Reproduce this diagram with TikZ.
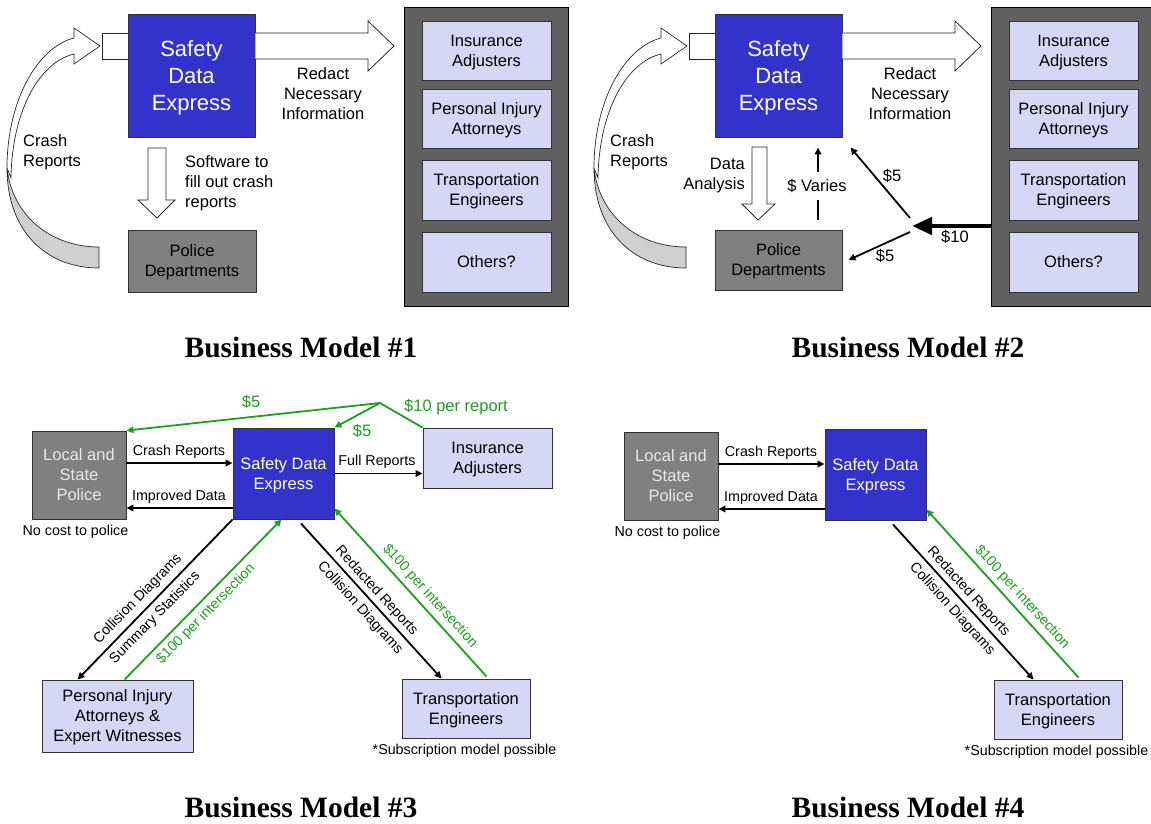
\documentclass[tikz,border=0pt]{standalone}
\usepackage{fontspec}
\setmainfont{Liberation Sans}
\newfontfamily\titlefont{Liberation Serif}
\usetikzlibrary{arrows.meta,calc}
\definecolor{sdeblue}{RGB}{51,51,204}
\definecolor{polgrey}{RGB}{128,128,128}
\definecolor{contgrey}{RGB}{96,96,96}
\definecolor{lav}{RGB}{214,214,245}
\definecolor{mgreen}{RGB}{30,160,30}
\definecolor{curvegrey}{RGB}{208,208,208}
\definecolor{poltext}{RGB}{232,232,232}
\tikzset{
 box/.style={draw=black!80, line width=0.9pt, inner sep=0pt, align=center, text depth=0pt},
 sdebox/.style={box, fill=sdeblue, text=white},
 polbox/.style={box, fill=polgrey},
 lavbox/.style={box, fill=lav},
 contbox/.style={draw=black, line width=0.9pt, fill=contgrey, inner sep=0pt},
 bigtxt/.style={font=\fontsize{22}{27}\selectfont},
 midtxt/.style={font=\fontsize{16.5}{20}\selectfont},
 smalltxt/.style={font=\fontsize{14.3}{17}\selectfont},
 lbl/.style={inner sep=0pt, align=center},
 blockarrow/.style={draw=black!85, line width=0.8pt, fill=white, line join=miter},
 flow/.style={line width=1.8pt, -{Triangle[length=7pt,width=6.5pt]}},
 money/.style={flow, draw=mgreen},
 titletxt/.style={font=\titlefont\bfseries\fontsize{29.5}{32}\selectfont, anchor=base, inner sep=0pt},
 curveback/.style={fill=curvegrey, draw=black!85, line width=0.7pt},
 curvefront/.style={fill=white, draw=black!85, line width=0.7pt},
}
\begin{document}
\begin{tikzpicture}[x=1pt,y=-1pt]
\useasboundingbox[fill=white] (0,0) rectangle (1151,824);

%%%%%%%%%%%%%%%% Business Model #1 %%%%%%%%%%%%%%%%
\node[contbox, minimum width=164, minimum height=299] (cont1) at (486,156.5) {};
\node[lavbox, midtxt, minimum width=129, minimum height=59] (ia1) at (486.5,50.5) {Insurance\\Adjusters};
\node[lavbox, midtxt, minimum width=129, minimum height=59] (pa1) at (486.5,118.5) {Personal Injury\\Attorneys};
\node[lavbox, midtxt, minimum width=129, minimum height=60] (te1) at (486.5,190) {Transportation\\Engineers};
\node[lavbox, midtxt, minimum width=129, minimum height=60] (ot1) at (486.5,262) {Others?};

% curved arrow
\filldraw[curveback] (99,268) .. controls (45,268) and (7,230) .. (7,168) .. controls (12,215) and (50,247) .. (99,247) -- cycle;
\filldraw[curvefront] (7,168) .. controls (7,100) and (38,47) .. (74,38) -- (74,28) -- (100,46) -- (74,64) -- (74,54) .. controls (40,62) and (12,110) .. (11,178) -- cycle;
\draw[blockarrow] (102,33) rectangle (128,59);

\node[sdebox, bigtxt, minimum width=127, minimum height=123] (sde1) at (191.5,75.5) {Safety\\Data\\Express};
\draw[blockarrow] (sde1.east |- 0,33) -- (368,33) -- (368,21) -- (394,46) -- (368,71) -- (368,59) -- (sde1.east |- 0,59);
\node[polbox, midtxt, minimum width=128, minimum height=62] (pol1) at (192,261) {Police\\Departments};
\draw[blockarrow] (148,148) -- (166,148) -- (166,200) -- (175,200) -- (157,218) -- (138,200) -- (148,200) -- cycle;

\node[lbl, midtxt] (redact1) at (323,94) {Redact\\Necessary\\Information};
\node[lbl, midtxt, align=left, anchor=west] (crash1) at (23,152) {Crash\\Reports};
\node[lbl, midtxt, align=left, anchor=west] (soft1) at (185,183.5) {Software to\\fill out crash\\reports};

\node[titletxt] (t1) at (301,357) {Business Model \#1};

%%%%%%%%%%%%%%%% Business Model #2 %%%%%%%%%%%%%%%%
\begin{scope}[shift={(587,0)}]
\node[contbox, minimum width=164, minimum height=299] (cont2) at (486,156.5) {};
\node[lavbox, midtxt, minimum width=129, minimum height=59] (ia2) at (486.5,50.5) {Insurance\\Adjusters};
\node[lavbox, midtxt, minimum width=129, minimum height=59] (pa2) at (486.5,118.5) {Personal Injury\\Attorneys};
\node[lavbox, midtxt, minimum width=129, minimum height=60] (te2) at (486.5,190) {Transportation\\Engineers};
\node[lavbox, midtxt, minimum width=129, minimum height=60] (ot2) at (486.5,262) {Others?};

\filldraw[curveback] (99,268) .. controls (45,268) and (7,230) .. (7,168) .. controls (12,215) and (50,247) .. (99,247) -- cycle;
\filldraw[curvefront] (7,168) .. controls (7,100) and (38,47) .. (74,38) -- (74,28) -- (100,46) -- (74,64) -- (74,54) .. controls (40,62) and (12,110) .. (11,178) -- cycle;
\draw[blockarrow] (102,33) rectangle (128,59);

\node[sdebox, bigtxt, minimum width=127, minimum height=123] (sde2) at (191.5,75.5) {Safety\\Data\\Express};
\draw[blockarrow] (sde2.east |- 0,33) -- (368,33) -- (368,21) -- (394,46) -- (368,71) -- (368,59) -- (sde2.east |- 0,59);
\node[polbox, midtxt, minimum width=127, minimum height=60] (pol2) at (191.5,260) {Police\\Departments};
\draw[blockarrow] (165,147) -- (180,147) -- (180,204) -- (188,204) -- (171,220) -- (155,204) -- (165,204) -- cycle;

\node[lbl, midtxt] (redact2) at (323,94) {Redact\\Necessary\\Information};
\node[lbl, midtxt, align=left, anchor=west] (crash2) at (23,152) {Crash\\Reports};
\node[lbl, midtxt, align=right, anchor=east] (da2) at (158,176) {Data\\Analysis};

\draw[flow] ($(pol2.north)+(39.5,-10)$) -- ($(sde2.south)+(39.5,10)$);
\node[lbl, midtxt, fill=white, minimum width=75, minimum height=28] (var2) at (230,186) {\$ Varies};

\coordinate (j2) at (325,226);
\draw[line width=4.5pt, -{Triangle[length=20pt,width=17pt]}] (cont2.west |- j2) -- (j2);
\draw[flow] ($(j2)+(-2,-8)$) -- ($(sde2.south east)+(8,10)$);
\draw[flow] ($(j2)+(-2,6)$) -- ($(pol2.east)+(6,0)$);
\node[lbl, midtxt] (p5a) at (305,176) {\$5};
\node[lbl, midtxt] (p10) at (368,237) {\$10};
\node[lbl, midtxt] (p5b) at (298,256) {\$5};

\node[titletxt] (t2) at (321,357) {Business Model \#2};
\end{scope}

%%%%%%%%%%%%%%%% Business Model #3 %%%%%%%%%%%%%%%%
\node[polbox, midtxt, text=poltext, minimum width=94, minimum height=88] (police3) at (79,475) {Local and\\State\\Police};
\node[sdebox, midtxt, minimum width=101, minimum height=91] (sde3) at (283.5,473.5) {Safety Data\\Express};
\node[lavbox, midtxt, minimum width=129, minimum height=60] (ins3) at (487.5,458) {Insurance\\Adjusters};
\node[lavbox, midtxt, minimum width=151, minimum height=72] (pi3) at (117.5,716) {Personal Injury\\Attorneys \&\\Expert Witnesses};
\node[lavbox, midtxt, minimum width=128, minimum height=59] (te3) at (466,708.5) {Transportation\\Engineers};

\coordinate (c3a) at ($(police3.east)+(0,-12)$);
\draw[flow] (c3a) -- (c3a -| sde3.west);
\coordinate (c3b) at ($(sde3.west)+(0,34.5)$);
\draw[flow] (c3b) -- (c3b -| police3.east);
\draw[flow] (sde3.east) -- (sde3.east -| ins3.west);
\node[lbl, smalltxt] (l3a) at (179,452) {Crash Reports};
\node[lbl, smalltxt] (l3b) at (179,497) {Improved Data};
\node[lbl, smalltxt] (l3c) at (377,462) {Full Reports};
\node[lbl, smalltxt] (l3d) at (75.5,532) {No cost to police};

\coordinate (j3) at (380,403);
\draw[mgreen, line width=1.8pt] (ins3.north west) -- (j3);
\draw[money] (j3) -- (police3.north east);
\draw[money] (j3) -- (sde3.north east);
\node[lbl, midtxt, text=mgreen] (g3a) at (251,402) {\$5};
\node[lbl, midtxt, text=mgreen] (g3b) at (456,407) {\$10 per report};
\node[lbl, midtxt, text=mgreen] (g3c) at (362,431) {\$5};

\draw[flow] (sde3.south west) -- ($(pi3.north west)+(36,0)$);
\draw[money] ($(pi3.north west)+(83,0)$) -- ($(sde3.south)+(-2,0)$);
\draw[flow] ($(sde3.south)+(17.5,4)$) -- ($(te3.north west)+(40,0)$);
\draw[money] ($(te3.north west)+(85,-2)$) -- ($(sde3.south east)+(0,-11)$);

\node[lbl, smalltxt, rotate=45.7] (r3a) at (138,599) {Collision Diagrams};
\node[lbl, smalltxt, rotate=45.7] (r3b) at (155,618) {Summary Statistics};
\node[lbl, smalltxt, rotate=45.5, text=mgreen] (r3c) at (206,614) {\$100 per intersection};
\node[lbl, smalltxt, rotate=-47.7] (r3d) at (376.5,591) {Redacted Reports};
\node[lbl, smalltxt, rotate=-47.7] (r3e) at (360,608) {Collision Diagrams};
\node[lbl, smalltxt, rotate=-47.9, text=mgreen] (r3f) at (430,596) {\$100 per intersection};
\node[lbl, smalltxt] (sub3) at (464.5,751) {*Subscription model possible};

\node[titletxt] (t3) at (301,817) {Business Model \#3};

%%%%%%%%%%%%%%%% Business Model #4 %%%%%%%%%%%%%%%%
\begin{scope}[shift={(592,1)}]
\node[polbox, midtxt, text=poltext, minimum width=94, minimum height=88] (police4) at (79,475) {Local and\\State\\Police};
\node[sdebox, midtxt, minimum width=101, minimum height=91] (sde4) at (283.5,473.5) {Safety Data\\Express};
\node[lavbox, midtxt, minimum width=128, minimum height=59] (te4) at (466,708.5) {Transportation\\Engineers};

\coordinate (c4a) at ($(police4.east)+(0,-12)$);
\draw[flow] (c4a) -- (c4a -| sde4.west);
\coordinate (c4b) at ($(sde4.west)+(0,34.5)$);
\draw[flow] (c4b) -- (c4b -| police4.east);
\node[lbl, smalltxt] (l4a) at (179,452) {Crash Reports};
\node[lbl, smalltxt] (l4b) at (179,497) {Improved Data};
\node[lbl, smalltxt] (l4d) at (75.5,532) {No cost to police};

\draw[flow] ($(sde4.south)+(17.5,4)$) -- ($(te4.north west)+(40,0)$);
\draw[money] ($(te4.north west)+(85,-2)$) -- ($(sde4.south east)+(0,-11)$);
\node[lbl, smalltxt, rotate=-47.7] (r4d) at (376.5,591) {Redacted Reports};
\node[lbl, smalltxt, rotate=-47.7] (r4e) at (360,608) {Collision Diagrams};
\node[lbl, smalltxt, rotate=-47.9, text=mgreen] (r4f) at (430,596) {\$100 per intersection};
\node[lbl, smalltxt] (sub4) at (464.5,751) {*Subscription model possible};

\node[titletxt] (t4) at (316,816) {Business Model \#4};
\end{scope}
\end{tikzpicture}
\end{document}
